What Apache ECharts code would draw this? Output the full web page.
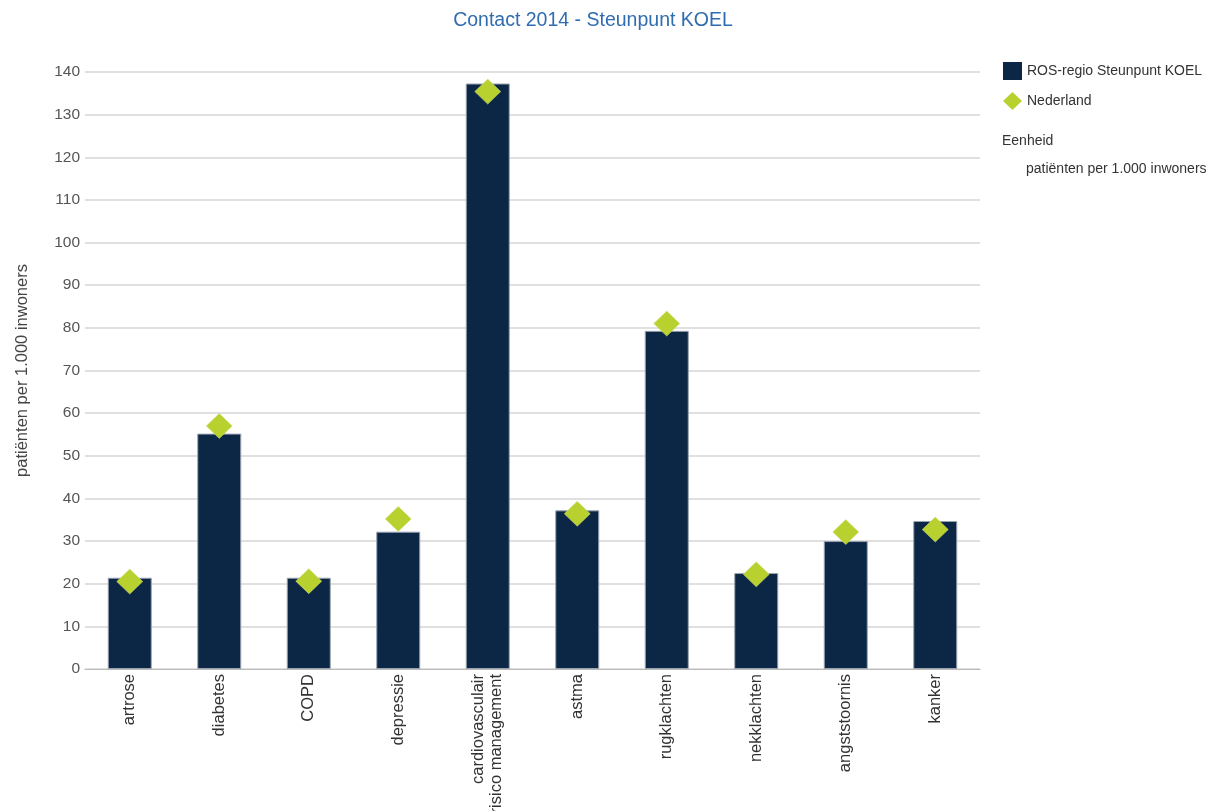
<!DOCTYPE html>
<html>
<head>
<meta charset="utf-8">
<script src="https://cdn.jsdelivr.net/npm/echarts@6/dist/echarts.min.js"></script>
<style>html,body{margin:0;padding:0;background:#fff}#c{width:1215px;height:811px}</style>
</head>
<body>
<div id="c"></div>
<script>
const categories = ['artrose','diabetes','COPD','depressie','cardiovasculair\nrisico management','astma','rugklachten','nekklachten','angststoornis','kanker'];
const regioValues = [21.4, 55.2, 21.4, 32.2, 137.3, 37.2, 79.3, 22.5, 30.0, 34.7];
const nederlandValues = [20.5, 57.0, 20.6, 35.2, 135.4, 36.4, 81.0, 22.2, 32.1, 32.7];
const seriesNames = ['ROS-regio Steunpunt KOEL', 'Nederland'];
const titleText = 'Contact 2014 - Steunpunt KOEL';
const unitLabel = 'patiënten per 1.000 inwoners';

const chart = echarts.init(document.getElementById('c'));
const font = 'Liberation Sans, Arial, sans-serif';
chart.setOption({
  animation: false,
  textStyle: { fontFamily: font },
  title: {
    text: titleText, left: 588, top: 6, textAlign: 'center',
    textStyle: { color: '#2f6cb0', fontSize: 19.5, fontWeight: 'normal', fontFamily: font }
  },
  legend: {
    orient: 'vertical', left: 998, top: 57, itemGap: 12, itemWidth: 19, itemHeight: 18,
    textStyle: { color: '#333', fontSize: 14, fontFamily: font, padding: [2, 0, 0, 0] },
    itemStyle: { borderWidth: 0 },
    data: [
      { name: seriesNames[0], icon: 'rect' },
      { name: seriesNames[1], icon: 'diamond' }
    ]
  },
  graphic: [
    { type: 'text', left: 1002, top: 134, style: { text: 'Eenheid', fill: '#333', font: '14px ' + font } },
    { type: 'text', left: 1026, top: 162, style: { text: unitLabel, fill: '#333', font: '14px ' + font } }
  ],
  grid: { left: 85, right: 235, top: 72, bottom: 142, containLabel: false, outerBoundsMode: 'none' },
  xAxis: {
    type: 'category', data: categories,
    axisLine: { lineStyle: { color: '#bbb' } },
    axisTick: { show: false },
    axisLabel: { rotate: 90, color: '#333', fontSize: 16.5, fontFamily: font, margin: 5, lineHeight: 18, interval: 0 }
  },
  yAxis: {
    type: 'value', min: 0, max: 140, interval: 10,
    name: unitLabel, nameLocation: 'middle', nameGap: 54, nameRotate: 90,
    nameTextStyle: { color: '#444', fontSize: 16.5, fontFamily: font },
    axisLine: { show: false },
    axisTick: { show: false },
    axisLabel: { color: '#555', fontSize: 15.5, fontFamily: font, margin: 5 },
    splitLine: { lineStyle: { color: '#d6d6d6', width: 1.5 } }
  },
  series: [
    {
      name: seriesNames[0], type: 'bar', data: regioValues, barWidth: 44,
      itemStyle: { color: '#0c2646', borderColor: '#9aa3b0', borderWidth: 1 }
    },
    {
      name: seriesNames[1], type: 'scatter', data: nederlandValues, symbol: 'diamond', symbolSize: [26, 25], z: 5,
      itemStyle: { color: '#b8d12f', opacity: 1, borderColor: '#d0e07a', borderWidth: 0.5 }
    }
  ]
});
</script>
</body>
</html>
